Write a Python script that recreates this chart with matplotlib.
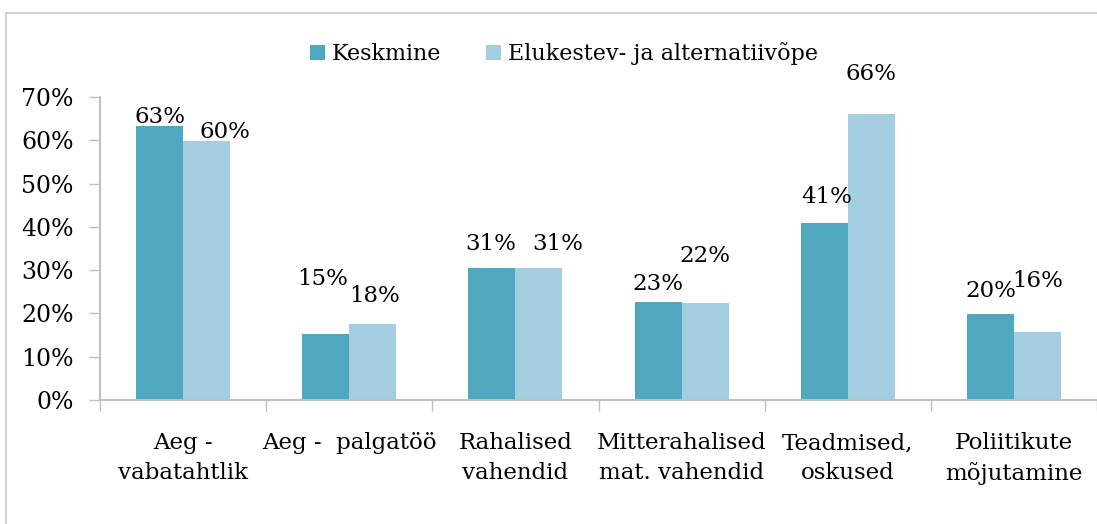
import matplotlib
matplotlib.use("Agg")
import matplotlib.pyplot as plt
from matplotlib.patches import Rectangle
import numpy as np

categories = ["Aeg -\nvabatahtlik", "Aeg -  palgatöö", "Rahalised\nvahendid",
              "Mitterahalised\nmat. vahendid", "Teadmised,\noskused", "Poliitikute\nmõjutamine"]
series_names = ["Keskmine", "Elukestev- ja alternatiivõpe"]
keskmine = [63.4, 15.2, 30.6, 22.7, 40.8, 19.9]
elukestev = [59.9, 17.6, 30.6, 22.4, 66.0, 15.8]

# label offsets in pixels (dx, dy above bar top) -- styling only
off_k = [(0, 3), (-3, 49), (-1, 18), (0, 12), (2, 20), (0, 17)]
off_e = [(18, 3), (2, 22), (19, 18), (0, 41), (0, 34), (0, 45)]

c_k = "#4EA8BF"
c_e = "#A3CEDF"
gray = "#BFBFBF"
FONT = "DejaVu Serif"

W, H = 1097, 524
fig = plt.figure(figsize=(W / 100, H / 100), dpi=100)
fig.patches.append(Rectangle((6 / W, -0.1), 1.2, 1 - 13 / H + 0.1, transform=fig.transFigure,
                             fill=False, edgecolor="#C8C8C8", linewidth=1.2))

ax = fig.add_axes([100 / W, 1 - 400 / H, 1 - 100 / W, (400 - 97) / H])
x = np.arange(len(categories))
bw = 0.283
bk = ax.bar(x - bw / 2, keskmine, bw, color=c_k, label=series_names[0])
be = ax.bar(x + bw / 2, elukestev, bw, color=c_e, label=series_names[1])

for bars, vals, offs in ((bk, keskmine, off_k), (be, elukestev, off_e)):
    for b, v, (dx, dy) in zip(bars, vals, offs):
        ax.annotate(f"{round(v):d}%", (b.get_x() + b.get_width() / 2, v),
                    xytext=(dx, dy), textcoords="offset pixels",
                    ha="center", va="baseline", fontsize=16.5, family=FONT, color="black")

ax.set_xlim(-0.5, -0.5 + (W - 100) / 167)
ax.set_ylim(0, 70)
ax.set_yticks(np.arange(0, 71, 10))
ax.set_yticklabels([f"{t}%" for t in range(0, 71, 10)], fontsize=17, family=FONT)
ax.tick_params(axis="y", length=8, width=1, color=gray, pad=11)

ax.set_xticks(np.arange(-0.5, len(categories), 1.0))
ax.set_xticklabels([])
ax.set_xticks(x, minor=True)
ax.set_xticklabels(categories, minor=True, fontsize=16.5, family=FONT, linespacing=1.45)
ax.tick_params(axis="x", which="major", length=8, width=1, color=gray, direction="out")
ax.tick_params(axis="x", which="minor", length=0, pad=23)

for s in ("top", "right"):
    ax.spines[s].set_visible(False)
for s in ("left", "bottom"):
    ax.spines[s].set_color(gray)
    ax.spines[s].set_linewidth(1.5)

leg = fig.legend(handles=[bk, be], labels=series_names, loc="center",
                 bbox_to_anchor=(564 / W, 1 - 54 / H), ncol=2, frameon=False,
                 prop={"family": FONT, "size": 16}, handlelength=0.68, handleheight=0.68,
                 handletextpad=0.32, columnspacing=2.0)

fig.savefig("out.png", dpi=100)
